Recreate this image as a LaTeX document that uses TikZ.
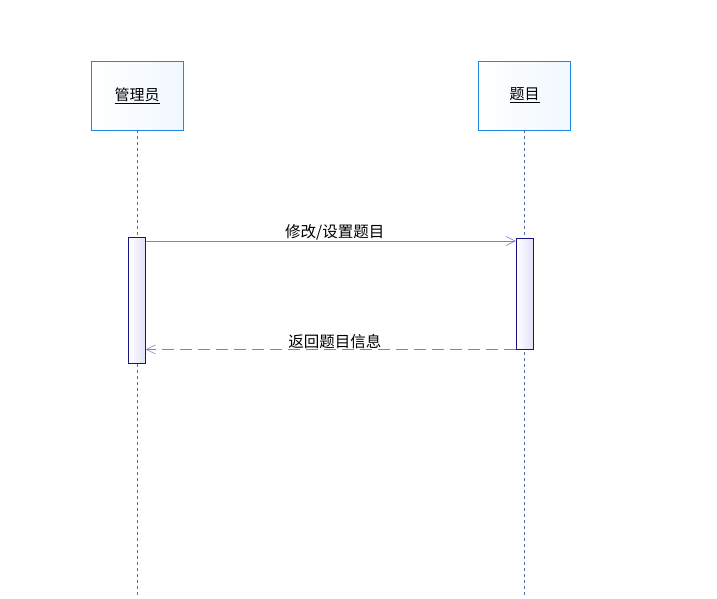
\documentclass[tikz,border=0pt]{standalone}
\usepackage{fontspec}
\setmainfont{Noto Sans CJK SC}
\usetikzlibrary{arrows.meta, positioning}
\definecolor{objblue}{RGB}{30,136,229}
\definecolor{objfill}{RGB}{240,248,255}
\definecolor{actnavy}{RGB}{20,20,130}
\definecolor{actfill}{RGB}{225,225,250}
\definecolor{msgpurple}{RGB}{128,128,200}
\definecolor{lifegray}{RGB}{80,110,160}

\begin{document}
\begin{tikzpicture}[
    x=1pt, y=-1pt,
    obj/.style={rectangle, draw=objblue, left color=white, right color=objfill, minimum width=92pt, minimum height=69pt, align=center, font=\fontsize{15pt}{17pt}\selectfont},
    act/.style={rectangle, draw=actnavy, left color=white, right color=actfill, minimum width=17pt, anchor=north},
    lifeline/.style={draw=lifegray, dash pattern=on 3pt off 3pt, line width=0.5pt},
    msg/.style={draw=msgpurple, line width=0.6pt, -{Straight Barb[length=9pt, width=9pt]}},
    ret/.style={msg, dash pattern=on 12pt off 6pt},
    lbl/.style={font=\fontsize{15.5pt}{17pt}\selectfont, inner sep=0.5pt}
]
\useasboundingbox (0,0) rectangle (717,598);

% objects
\node[obj] (admin) at (137,95.5) {\underline{管理员}};
\node[obj] (topic) at (524.5,95.5) {\underline{题目}};

% lifelines
\coordinate (adminEnd) at (137,598);
\coordinate (topicEnd) at (524.5,598);
\draw[lifeline] (admin.south) -- (adminEnd);
\draw[lifeline] (topic.south) -- (topicEnd);

% activations
\node[act, minimum height=126pt] (adminAct) at (137,237) {};
\node[act, minimum height=111pt] (topicAct) at (524.5,238) {};

% messages
\draw[msg] (adminAct.north east |- 0,241) -- node[lbl, above, xshift=4pt] {修改/设置题目} (topicAct.north west |- 0,241);
\draw[ret] (topicAct.south west) -- node[lbl, above, xshift=4pt] {返回题目信息} (adminAct.east |- topicAct.south);

\end{tikzpicture}
\end{document}
